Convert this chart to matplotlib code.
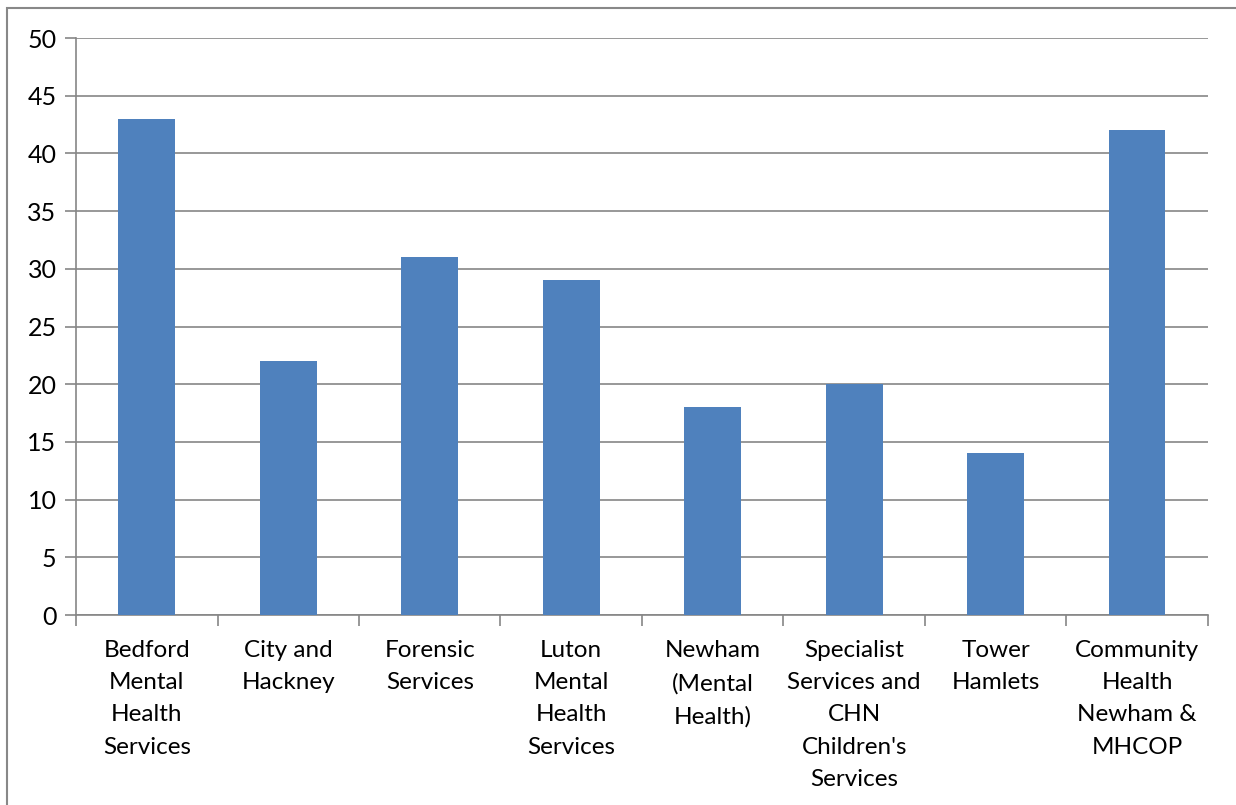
import matplotlib.pyplot as plt
from matplotlib.patches import Rectangle

categories = [
    "Bedford\nMental\nHealth\nServices",
    "City and\nHackney",
    "Forensic\nServices",
    "Luton\nMental\nHealth\nServices",
    "Newham\n(Mental\nHealth)",
    "Specialist\nServices and\nCHN\nChildren's\nServices",
    "Tower\nHamlets",
    "Community\nHealth\nNewham &\nMHCOP",
]
values = [43, 22, 31, 29, 18, 20, 14, 42]
yticks = [0, 5, 10, 15, 20, 25, 30, 35, 40, 45, 50]

plt.rcParams['font.family'] = ['Lato', 'DejaVu Sans']

fig = plt.figure(figsize=(12.36, 8.05), dpi=100)
ax = fig.add_axes([0.0615, 0.236, 0.9158, 0.7167])

grid_col = '#868686'
x = list(range(len(values)))
ax.bar(x, values, width=0.4, color='#4F81BD', zorder=3)

ax.set_xlim(-0.5, len(values) - 0.5)
ax.set_ylim(0, 50)
ax.set_yticks(yticks)
ax.set_yticklabels([str(v) for v in yticks], fontsize=18)
ax.yaxis.grid(True, color=grid_col, linewidth=1.2, zorder=0)

# category labels sit between the boundary tick marks
ax.set_xticks([i + 0.5 for i in range(-1, len(values))])
ax.set_xticklabels([])
ax.set_xticks(x, minor=True)
ax.set_xticklabels(categories, minor=True, fontsize=17.5, linespacing=1.66, va='top')
ax.tick_params(axis='x', which='minor', length=0, pad=18)
ax.tick_params(axis='x', which='major', length=8, color=grid_col, width=1.2)
ax.tick_params(axis='y', length=8, color=grid_col, width=1.2, pad=6)

for side in ['top', 'right']:
    ax.spines[side].set_visible(False)
for side in ['left', 'bottom']:
    ax.spines[side].set_color(grid_col)
    ax.spines[side].set_linewidth(1.2)

# outer chart frame
fig.patches.append(Rectangle((7 / 1236, -0.2), 2, 1.2 - 8 / 805, transform=fig.transFigure,
                             fill=False, edgecolor='#888888', linewidth=1.5))

fig.savefig('out.png', dpi=100)
